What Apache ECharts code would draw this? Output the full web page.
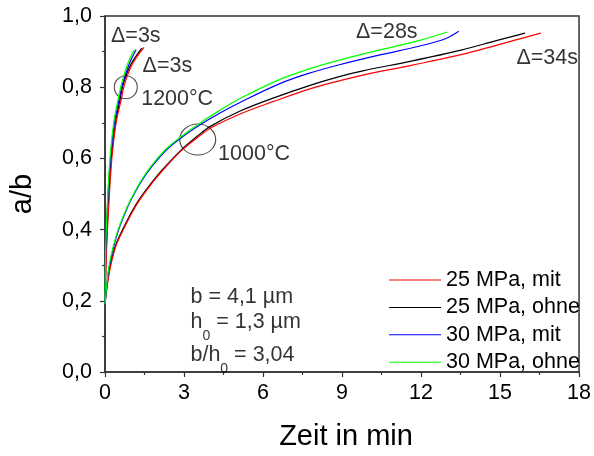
<!DOCTYPE html>
<html>
<head>
<meta charset="utf-8">
<script src="https://cdn.jsdelivr.net/npm/echarts@6/dist/echarts.min.js"></script>
<style>html,body{margin:0;padding:0;background:#fff;}#c{width:594px;height:456px;}</style>
</head>
<body>
<div id="c"></div>
<script>
// Series names (legend)
const seriesNames = ['25 MPa, mit', '25 MPa, ohne', '30 MPa, mit', '30 MPa, ohne'];
const seriesColors = ['#ff0000', '#000000', '#0000ff', '#00ff00'];

// 1200 °C curves [Zeit in min, a/b]
const red1200 = [[0,0.19],[0.06,0.345],[0.16,0.49],[0.26,0.60],[0.42,0.70],[0.60,0.76],[0.75,0.81],[1.04,0.865],[1.48,0.912]];
const black1200 = [[0,0.19],[0.05,0.345],[0.14,0.49],[0.24,0.60],[0.40,0.70],[0.56,0.76],[0.70,0.81],[0.99,0.865],[1.40,0.91]];
const blue1200 = [[0,0.19],[0.03,0.345],[0.11,0.49],[0.21,0.60],[0.36,0.70],[0.52,0.76],[0.67,0.81],[0.92,0.865],[1.18,0.905]];
const green1200 = [[0,0.19],[0.025,0.345],[0.10,0.49],[0.19,0.60],[0.33,0.70],[0.48,0.76],[0.63,0.81],[0.86,0.865],[1.11,0.905]];

// 1000 °C curves
const red1000 = [[0,0.19],[0.1,0.25],[0.22,0.30],[0.42,0.355],[0.70,0.40],[1.03,0.448],[1.33,0.485],[1.83,0.535],[2.33,0.578],[2.9,0.622],[3.53,0.66],[4.05,0.687],[5.2,0.727],[6.4,0.76],[7.9,0.798],[9.0,0.82],[9.79,0.834],[11.67,0.862],[13.56,0.892],[14.82,0.917],[16.55,0.952]];
const black1000 = [[0,0.19],[0.1,0.255],[0.2,0.30],[0.4,0.355],[0.67,0.40],[1.0,0.448],[1.3,0.485],[1.8,0.535],[2.3,0.578],[2.87,0.622],[3.5,0.662],[4.0,0.69],[5.13,0.733],[6.33,0.768],[7.9,0.808],[9.0,0.832],[9.79,0.846],[11.67,0.874],[13.56,0.905],[14.82,0.930],[15.95,0.952]];
const blue1000 = [[0,0.19],[0.085,0.255],[0.17,0.30],[0.34,0.355],[0.52,0.40],[0.77,0.448],[1.0,0.485],[1.38,0.535],[1.79,0.578],[2.35,0.625],[2.93,0.66],[3.58,0.693],[4.35,0.727],[5.2,0.76],[6.64,0.81],[7.7,0.838],[8.9,0.863],[10.4,0.89],[11.92,0.915],[12.93,0.936],[13.43,0.957]];
const green1000 = [[0,0.19],[0.08,0.255],[0.16,0.30],[0.32,0.355],[0.50,0.40],[0.75,0.448],[0.98,0.485],[1.35,0.535],[1.75,0.578],[2.3,0.625],[2.87,0.66],[3.5,0.694],[4.25,0.73],[5.07,0.766],[6.64,0.822],[7.7,0.85],[8.9,0.876],[10.4,0.904],[11.92,0.931],[13.0,0.955]];

// Axis ticks
const xTicks = [0, 3, 6, 9, 12, 15, 18];
const yTicks = [0.0, 0.2, 0.4, 0.6, 0.8, 1.0];

// Annotations (anchored in data coordinates)
const annotTexts = ['\u0394=3s', '\u0394=3s', '1200\u00b0C', '1000\u00b0C', '\u0394=28s', '\u0394=34s'];
const annotX = [1.17, 2.37, 2.74, 5.66, 10.7, 16.79];
const annotY = [0.945, 0.858, 0.768, 0.613, 0.954, 0.881];
const circleCenters = [[0.79, 0.80], [3.52, 0.653]];
const infoLines = ['{t|b = 4,1 \u00b5m}', '{t|h}{s|0}{t| = 1,3 \u00b5m}', '{t|b/h}{s|0}{t| = 3,04}'];
const infoX = [3.245, 3.245, 3.245];
const infoY = [0.195, 0.123, 0.030];

const FONT = 'Arial, "Liberation Sans", sans-serif';
const FS = 21.5;

const chart = echarts.init(document.getElementById('c'), null, {renderer: 'canvas'});

function lineSeries(name, data, color) {
  return {
    name: name, type: 'line', data: data, smooth: 0.35,
    symbol: 'none', lineStyle: {color: color, width: 1.2}, itemStyle: {color: color},
    animation: false
  };
}

const series = [
  lineSeries(seriesNames[1], black1200, seriesColors[1]),
  lineSeries(seriesNames[0], red1200, seriesColors[0]),
  lineSeries(seriesNames[2], blue1200, seriesColors[2]),
  lineSeries(seriesNames[3], green1200, seriesColors[3]),
  lineSeries(seriesNames[1], black1000, seriesColors[1]),
  lineSeries(seriesNames[0], red1000, seriesColors[0]),
  lineSeries(seriesNames[2], blue1000, seriesColors[2]),
  lineSeries(seriesNames[3], green1000, seriesColors[3]),
  {
    type: 'scatter', silent: true, animation: false,
    data: [
      {value: circleCenters[0], symbolSize: [23, 23]},
      {value: circleCenters[1], symbolSize: [36, 31]}
    ],
    symbol: 'circle',
    itemStyle: {color: 'rgba(0,0,0,0)', borderColor: '#222', borderWidth: 1.1}
  },
  {
    type: 'scatter', silent: true, animation: false, symbolSize: 0,
    data: annotTexts.map((t, i) => ({value: [annotX[i], annotY[i]], name: t})),
    label: {show: true, position: 'inside', formatter: p => p.name,
      color: '#000', fontSize: FS, fontFamily: FONT}
  },
  {
    type: 'scatter', silent: true, animation: false, symbolSize: 0,
    data: infoLines.map((t, i) => ({value: [infoX[i], infoY[i]], name: t})),
    label: {
      show: true, position: 'right', distance: 0, align: 'left', verticalAlign: 'middle',
      formatter: p => p.name,
      rich: {
        t: {fontSize: FS, fontFamily: FONT, color: '#000', lineHeight: 34, verticalAlign: 'top'},
        s: {fontSize: 14, fontFamily: FONT, color: '#000', lineHeight: 14, verticalAlign: 'top', padding: [18, 0, 0, 0]}
      }
    }
  }
];

chart.setOption({
  backgroundColor: '#fff',
  animation: false,
  grid: {left: 104, right: 13, top: 16, bottom: 78, show: true, borderColor: '#333', borderWidth: 1.5, backgroundColor: 'transparent'},
  legend: {
    data: seriesNames, orient: 'vertical', left: 384, top: 264,
    itemWidth: 52, itemHeight: 14, itemGap: 5.4,
    textStyle: {fontSize: FS, fontFamily: FONT, color: '#000', lineHeight: 22},
    icon: 'path://M0,0 L52,0 L52,1 L0,1 Z'
  },
  xAxis: {
    type: 'value', min: 0, max: 18, interval: 3,
    name: 'Zeit in min', nameLocation: 'middle', nameGap: 50,
    nameTextStyle: {fontSize: 29, fontFamily: FONT, color: '#000', padding: [0, 0, 0, 8]},
    axisLine: {show: true, lineStyle: {color: '#333', width: 1.5}},
    axisTick: {show: true, inside: false, length: 5, lineStyle: {color: '#333', width: 1.2}},
    minorTick: {show: true, splitNumber: 2, length: 3, lineStyle: {color: '#333', width: 1.2}},
    axisLabel: {fontSize: FS, fontFamily: FONT, color: '#000', margin: 10,
      formatter: v => xTicks.indexOf(v) >= 0 ? String(v) : ''},
    splitLine: {show: false}
  },
  yAxis: {
    type: 'value', min: 0, max: 1, interval: 0.2,
    name: 'a/b', nameLocation: 'middle', nameGap: 68, nameRotate: 90,
    nameTextStyle: {fontSize: 29, fontFamily: FONT, color: '#000'},
    axisLine: {show: true, lineStyle: {color: '#333', width: 1.5}},
    axisTick: {show: true, inside: false, length: 5, lineStyle: {color: '#333', width: 1.2}},
    minorTick: {show: true, splitNumber: 2, length: 3, lineStyle: {color: '#333', width: 1.2}},
    axisLabel: {fontSize: FS, fontFamily: FONT, color: '#000', margin: 13,
      formatter: v => {
        const t = yTicks.find(k => Math.abs(k - v) < 1e-9);
        return t === undefined ? '' : t.toFixed(1).replace('.', ',');
      }},
    splitLine: {show: false}
  },
  series: series
});
</script>
</body>
</html>
